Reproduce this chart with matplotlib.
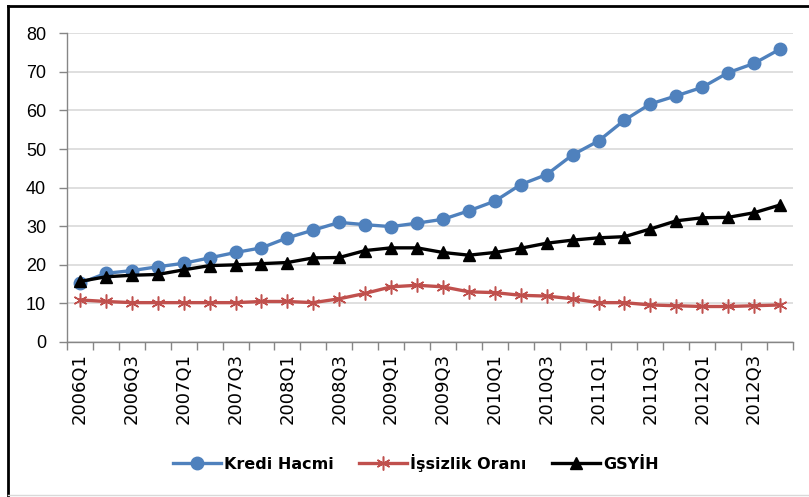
import numpy as np
import matplotlib.pyplot as plt
from matplotlib.lines import Line2D

quarters = [f'{y}Q{q}' for y in range(2006, 2013) for q in range(1, 5)]

kredi = [15.2, 17.8, 18.5, 19.5, 20.4, 21.8, 23.2, 24.4, 27.0, 29.0, 31.0, 30.4,
         29.9, 30.8, 31.8, 34.0, 36.5, 40.8, 43.4, 48.5, 52.1, 57.5, 61.7, 63.8,
         66.0, 69.8, 72.2, 75.9]
issizlik = [10.9, 10.5, 10.2, 10.2, 10.2, 10.2, 10.2, 10.5, 10.5, 10.2, 11.2, 12.6,
            14.3, 14.7, 14.3, 13.0, 12.8, 12.1, 11.9, 11.2, 10.2, 10.2, 9.6, 9.4,
            9.2, 9.2, 9.4, 9.6]
gsyih = [15.7, 16.9, 17.3, 17.5, 18.7, 19.8, 20.0, 20.3, 20.6, 21.8, 21.9, 23.7,
         24.4, 24.4, 23.2, 22.5, 23.2, 24.3, 25.6, 26.4, 27.0, 27.3, 29.3, 31.4,
         32.2, 32.3, 33.5, 35.5]

blue = '#4F81BD'
red = '#C0504D'

fig = plt.figure(figsize=(8.09, 4.97), dpi=100)
ax = fig.add_axes([67/809, 1-342/497, (793-67)/809, (342-33.3)/497])

x = np.arange(len(quarters))
ax.plot(x, kredi, color=blue, lw=2.4, marker='o', ms=9, label='Kredi Hacmi')
ax.plot(x, issizlik, color=red, lw=2.4, marker=(6, 2, 0), ms=10, mew=1.1,
        label='İşsizlik Oranı')
ax.plot(x, gsyih, color='black', lw=2.4, marker='^', ms=9, label='GSYİH')

ax.set_xlim(-0.5, len(quarters) - 0.5)
ax.set_ylim(0, 80)
ax.set_yticks(range(0, 81, 10))
ax.yaxis.grid(True, color='#D9D9D9', lw=1.2)
ax.set_axisbelow(True)

ax.set_xticks(x[::2])
ax.set_xticklabels(quarters[::2], rotation=90, fontsize=13, family='DejaVu Sans')
ax.set_xticks(np.arange(-0.5, len(quarters)), minor=True)
ax.tick_params(axis='x', which='major', length=0, pad=8)
ax.tick_params(axis='x', which='minor', length=6, color='#868686', width=1)
ax.tick_params(axis='y', length=6, color='#868686', width=1, pad=9, labelsize=13)
for lbl in ax.get_yticklabels():
    lbl.set_family('Liberation Sans')

for s in ['top', 'right']:
    ax.spines[s].set_visible(False)
for s in ['left', 'bottom']:
    ax.spines[s].set_color('#868686')
    ax.spines[s].set_linewidth(1)

fig.legend(loc='center', bbox_to_anchor=(0.514, 1-463/497), ncol=3, frameon=False,
           prop={'weight': 'bold', 'size': 11.5}, handlelength=3, columnspacing=1.6,
           handletextpad=0.2)

# outer frame: dark on top and left, light at the bottom
fig.add_artist(Line2D([8/809, 1], [1-6/497, 1-6/497], color='black', lw=2,
                      transform=fig.transFigure))
fig.add_artist(Line2D([8/809, 8/809], [0, 1-6/497], color='black', lw=2,
                      transform=fig.transFigure))
fig.add_artist(Line2D([8/809, 1], [2/497, 2/497], color='#D9D9D9', lw=1,
                      transform=fig.transFigure))

fig.savefig('out.png', dpi=100)
